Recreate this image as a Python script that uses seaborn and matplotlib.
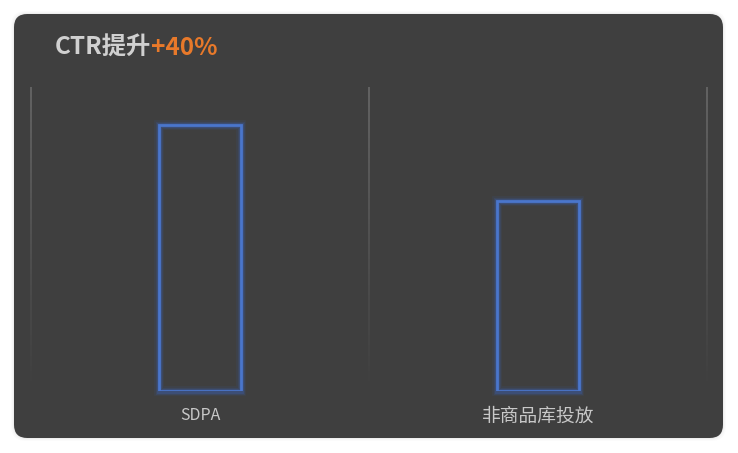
import matplotlib
matplotlib.use("Agg")
import matplotlib.pyplot as plt
import seaborn as sns
import pandas as pd
import numpy as np
from matplotlib.patches import FancyBboxPatch
from matplotlib.collections import LineCollection

categories = ["SDPA", "非商品库投放"]
values = [1.4, 1.0]
title_main = "CTR提升"
title_accent = "+40%"

sns.set_theme(style="white")
plt.rcParams['font.family'] = ['Noto Sans CJK SC', 'DejaVu Sans']

W, H = 738, 453
fig = plt.figure(figsize=(W / 100, H / 100), dpi=100)
fig.patch.set_facecolor("white")

# card background with soft shadow
for i, a in enumerate([0.015, 0.02, 0.03]):
    off = 3 - i
    sh = FancyBboxPatch(((14 - off) / W, 1 - (438 + off) / H), (709 + 2 * off) / W, (424 + 2 * off) / H,
                        boxstyle="round,pad=0,rounding_size=0.02", transform=fig.transFigure,
                        facecolor="black", edgecolor="none", alpha=a, zorder=-2,
                        mutation_aspect=W / H)
    fig.patches.append(sh)
card = FancyBboxPatch((14 / W, 1 - 438 / H), 709 / W, 424 / H,
                      boxstyle="round,pad=0,rounding_size=0.018", transform=fig.transFigure,
                      facecolor="#3f3f3f", edgecolor="none", zorder=-1,
                      mutation_aspect=W / H)
fig.patches.append(card)

ax_l, ax_r, ax_t, ax_b = 31, 707, 87, 391
ax = fig.add_axes([ax_l / W, 1 - ax_b / H, (ax_r - ax_l) / W, (ax_b - ax_t) / H])
ax.set_facecolor("none")
ax.set_zorder(2)

df = pd.DataFrame({"cat": categories, "val": values})
sns.barplot(data=df, x="cat", y="val", ax=ax, width=0.245, fill=False,
            edgecolor="#4a76cc", linewidth=2.0, zorder=5, errorbar=None)

# glow
for p in list(ax.patches):
    x, y = p.get_x(), p.get_y()
    w, h = p.get_width(), p.get_height()
    for lw, al in [(7, 0.08), (5, 0.12), (3.5, 0.2)]:
        ax.add_patch(plt.Rectangle((x, y), w, h, fill=False, edgecolor="#3a6fe0",
                                   linewidth=lw, alpha=al, zorder=4, clip_on=False))

ax.set_xlim(-0.5, 1.5)
ax.set_ylim(0, 1.6)

# gradient separator lines
n = 60
ys = np.linspace(1.6, 0, n + 1)
for xv in [-0.5, 0.5, 1.5]:
    segs = [[(xv, ys[i]), (xv, ys[i + 1])] for i in range(n)]
    alphas = np.linspace(0.95, 0.0, n)
    cols = [(0.42, 0.42, 0.42, a) for a in alphas]
    lc = LineCollection(segs, colors=cols, linewidths=1.2, zorder=2, clip_on=False)
    ax.add_collection(lc)

for s in ax.spines.values():
    s.set_visible(False)
ax.set_yticks([])
ax.set_xlabel("")
ax.set_ylabel("")
ax.tick_params(axis="x", length=0, pad=18, labelsize=11.5, colors="#c8c8c8")
for lab in ax.get_xticklabels():
    if lab.get_text() != "SDPA":
        lab.set_fontsize(13.5)
    lab.set_va("center")

# title
t1 = fig.text(55 / W, 1 - 48 / H, title_main, fontsize=17.5, fontweight="bold",
              color="#d0d0d0", va="center", ha="left")
fig.canvas.draw()
bb = t1.get_window_extent()
fig.text(bb.x1 / W, 1 - 48 / H, title_accent, fontsize=17.5, fontweight="bold",
         color="#e8792a", va="center", ha="left")

fig.savefig("out.png", dpi=100, facecolor="white")
